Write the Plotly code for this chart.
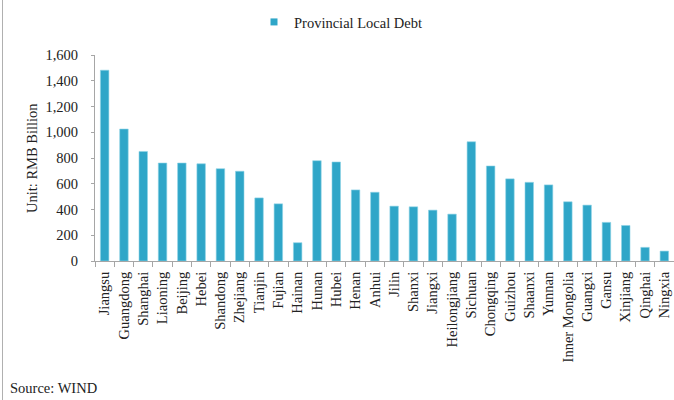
import plotly.graph_objects as go

provinces = ["Jiangsu", "Guangdong", "Shanghai", "Liaoning", "Beijing", "Hebei", "Shandong",
             "Zhejiang", "Tianjin", "Fujian", "Hainan", "Hunan", "Hubei", "Henan", "Anhui",
             "Jilin", "Shanxi", "Jiangxi", "Heilongjiang", "Sichuan", "Chongqing", "Guizhou",
             "Shaanxi", "Yunnan", "Inner Mongolia", "Guangxi", "Gansu", "Xinjiang", "Qinghai",
             "Ningxia"]
debt = [1482, 1025, 851, 761, 761, 755, 717, 697, 490, 444, 142, 779, 769, 552, 534,
        426, 421, 395, 364, 926, 738, 638, 611, 591, 460, 434, 300, 276, 106, 77]
y_ticks = [0, 200, 400, 600, 800, 1000, 1200, 1400, 1600]
y_tick_text = ["0", "200", "400", "600", "800", "1,000", "1,200", "1,400", "1,600"]

W, H = 674, 400
ML, MR, MT, MB = 95, 0, 55, 139
PW, PH = W - ML - MR, H - MT - MB

def px_x(x):
    return (x - ML) / PW

def px_y(y):
    return (H - MB - y) / PH

FONT = "Liberation Serif, Times New Roman, serif"
FS = 14.5
BAR = "#2fa6c8"

fig = go.Figure()
fig.add_trace(go.Bar(
    x=provinces, y=debt, name="Provincial Local Debt", showlegend=False,
    marker=dict(color=BAR, line=dict(color="#8fd3e6", width=0.6)),
))
# legend key (small square, as in the reference)
fig.add_trace(go.Scatter(
    x=[None], y=[None], mode="markers", name="Provincial Local Debt",
    marker=dict(symbol="square", size=7, color=BAR), showlegend=True,
))

fig.update_layout(
    width=W, height=H,
    margin=dict(l=ML, r=MR, t=MT, b=MB, pad=0, autoexpand=False),
    paper_bgcolor="white", plot_bgcolor="white",
    font=dict(family=FONT, size=FS, color="#222222"),
    bargap=0.56,
    showlegend=True,
    legend=dict(orientation="h", x=px_x(341), xanchor="center", y=px_y(22), yanchor="middle",
                font=dict(size=FS), itemwidth=30, bgcolor="rgba(0,0,0,0)"),
    xaxis=dict(type="category", tickangle=-90, showline=True, linecolor="#a6a6a6", linewidth=1,
               ticks="outside", ticklen=5, tickcolor="#a6a6a6", tickson="boundaries",
               showgrid=False, tickfont=dict(size=FS), fixedrange=True, ticklabelstandoff=4,
               range=[-0.5, len(provinces) - 0.5]),
    yaxis=dict(range=[0, 1600], tickvals=y_ticks, ticktext=y_tick_text, showline=True,
               linecolor="#a6a6a6", linewidth=1, ticks="outside", ticklen=3, tickcolor="#a6a6a6",
               showgrid=False, zeroline=False, tickfont=dict(size=FS), ticklabelstandoff=10,
               fixedrange=True),
    annotations=[
        dict(text="Unit: RMB Billion", xref="paper", yref="paper", x=px_x(32), y=0.5,
             xanchor="center", yanchor="middle", textangle=-90, showarrow=False,
             font=dict(size=FS, family=FONT)),
        dict(text="Source: WIND", xref="paper", yref="paper", x=px_x(8), y=px_y(388),
             xanchor="left", yanchor="middle", showarrow=False, font=dict(size=FS, family=FONT)),
    ],
    shapes=[
        dict(type="line", xref="paper", yref="paper", x0=px_x(2.5), x1=px_x(2.5),
             y0=px_y(0), y1=px_y(400), line=dict(color="#b0b0b0", width=1)),
    ],
)

fig.write_html("out.html", config={"displayModeBar": False},
               post_script="document.body.style.margin='0';document.body.style.overflow='hidden';")
